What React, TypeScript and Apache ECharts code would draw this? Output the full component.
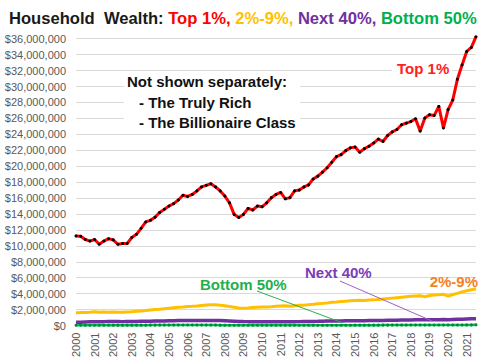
import React, { useEffect, useRef } from "react";
import * as echarts from "echarts";

const years: string[] = ["2000","2001","2002","2003","2004","2005","2006","2007","2008","2009","2010","2011","2012","2013","2014","2015","2016","2017","2018","2019","2020","2021"];
const quarters: string[] = [];
years.forEach((y) => ["Q1", "Q2", "Q3", "Q4"].forEach((q) => quarters.push(y + q)));
const categories = quarters.slice(0, 87);

// Values in $ millions per household
const top1: number[] = [
  11.25, 11.2, 10.8, 10.6, 10.8, 10.2, 10.6, 10.9, 10.75, 10.2, 10.3, 10.3,
  11.05, 11.45, 12.2, 13.0, 13.2, 13.6, 14.2, 14.6, 15.0, 15.3, 15.75, 16.35,
  16.2, 16.45, 16.9, 17.4, 17.6, 17.8, 17.4, 16.9, 16.25, 15.4, 13.95, 13.55,
  13.95, 14.7, 14.5, 15.0, 14.9, 15.4, 16.05, 16.45, 16.7, 15.9, 16.05, 16.9,
  17.0, 17.4, 17.65, 18.4, 18.75, 19.25, 19.8, 20.5, 21.2, 21.45, 21.95, 22.3,
  22.4, 21.75, 22.2, 22.5, 22.9, 23.4, 23.1, 23.85, 24.3, 24.6, 25.2, 25.4,
  25.6, 25.95, 24.4, 26.05, 26.45, 26.35, 27.5, 24.8, 27.1, 28.3, 30.9, 32.7,
  34.4, 34.9, 36.25,
];
const p2to9: number[] = [
  1.6, 1.62, 1.65, 1.68, 1.72, 1.66, 1.7, 1.68, 1.7, 1.68, 1.66, 1.7,
  1.72, 1.78, 1.82, 1.88, 1.95, 2.0, 2.05, 2.12, 2.18, 2.24, 2.3, 2.34,
  2.4, 2.42, 2.46, 2.52, 2.58, 2.62, 2.6, 2.56, 2.48, 2.4, 2.3, 2.2,
  2.16, 2.2, 2.26, 2.3, 2.34, 2.32, 2.36, 2.42, 2.46, 2.48, 2.42, 2.48,
  2.54, 2.56, 2.62, 2.66, 2.72, 2.78, 2.84, 2.92, 2.96, 3.02, 3.06, 3.1,
  3.14, 3.18, 3.14, 3.2, 3.22, 3.28, 3.34, 3.38, 3.44, 3.5, 3.56, 3.62,
  3.66, 3.7, 3.74, 3.62, 3.76, 3.82, 3.86, 3.92, 3.7, 3.9, 4.04, 4.2,
  4.36, 4.5, 4.62,
];
const next40: number[] = [
  0.4, 0.42, 0.44, 0.46, 0.48, 0.49, 0.49, 0.5, 0.5, 0.5, 0.49, 0.5,
  0.51, 0.52, 0.53, 0.54, 0.55, 0.56, 0.57, 0.58, 0.6, 0.61, 0.62, 0.63,
  0.63, 0.64, 0.64, 0.64, 0.64, 0.64, 0.63, 0.62, 0.6, 0.58, 0.55, 0.52,
  0.5, 0.49, 0.49, 0.49, 0.49, 0.48, 0.48, 0.48, 0.48, 0.48, 0.47, 0.48,
  0.49, 0.5, 0.51, 0.52, 0.53, 0.55, 0.56, 0.57, 0.58, 0.58, 0.59, 0.6,
  0.6, 0.61, 0.61, 0.62, 0.62, 0.63, 0.64, 0.65, 0.66, 0.67, 0.68, 0.69,
  0.7, 0.71, 0.72, 0.71, 0.72, 0.73, 0.74, 0.75, 0.74, 0.76, 0.78, 0.8,
  0.82, 0.84, 0.86,
];
const bottom50: number[] = [
  0.04, 0.041, 0.042, 0.043, 0.044, 0.044, 0.045, 0.045, 0.046, 0.046, 0.046, 0.047,
  0.047, 0.048, 0.049, 0.05, 0.051, 0.052, 0.053, 0.054, 0.055, 0.056, 0.057, 0.058,
  0.058, 0.058, 0.058, 0.057, 0.056, 0.055, 0.053, 0.05, 0.046, 0.042, 0.038, 0.035,
  0.033, 0.032, 0.031, 0.031, 0.03, 0.03, 0.03, 0.03, 0.031, 0.031, 0.031, 0.032,
  0.033, 0.034, 0.035, 0.036, 0.037, 0.038, 0.039, 0.04, 0.041, 0.042, 0.043, 0.044,
  0.045, 0.046, 0.047, 0.048, 0.049, 0.05, 0.051, 0.052, 0.053, 0.054, 0.055, 0.056,
  0.057, 0.058, 0.059, 0.059, 0.06, 0.061, 0.062, 0.063, 0.062, 0.066, 0.07, 0.074,
  0.078, 0.082, 0.086,
];
const yTicks = { min: 0, max: 36000000, interval: 2000000 };

const M = 1000000;
const FONT = '"Liberation Sans", Arial, sans-serif';
const TS = 16.6;

export default function App() {
  const ref = useRef<HTMLDivElement>(null);
  useEffect(() => {
    if (!ref.current) return;
    const chart = echarts.init(ref.current, null, { renderer: "svg" });
    const lineBase = { type: "line", smooth: false, clip: false, animation: false };
    chart.setOption({
      animation: false,
      backgroundColor: "#ffffff",
      title: {
        left: 4,
        top: 5,
        text:
          "{k|Household  Wealth: }{r|Top 1%, }{o|2%-9%, }{p|Next 40%, }{g|Bottom 50%}",
        textStyle: {
          fontFamily: FONT,
          fontWeight: "bold",
          fontSize: TS,
          rich: {
            k: { color: "#1a1a1a", fontWeight: "bold", fontSize: TS, fontFamily: FONT },
            r: { color: "#ff0000", fontWeight: "bold", fontSize: TS, fontFamily: FONT },
            o: { color: "#ffc000", fontWeight: "bold", fontSize: TS, fontFamily: FONT },
            p: { color: "#7030a0", fontWeight: "bold", fontSize: TS, fontFamily: FONT },
            g: { color: "#00b050", fontWeight: "bold", fontSize: TS, fontFamily: FONT },
          },
        },
      },
      grid: { left: 76, right: 4, top: 38.7, bottom: 33.3, containLabel: false },
      xAxis: {
        type: "category",
        data: categories,
        boundaryGap: false,
        axisLine: { show: true, lineStyle: { color: "#d9d9d9" } },
        axisTick: { show: false },
        axisLabel: {
          interval: 3,
          rotate: 90,
          margin: 7,
          fontSize: 11,
          fontFamily: FONT,
          color: "#595959",
          formatter: (v: string) => v.slice(0, 4),
        },
        splitLine: { show: false },
      },
      yAxis: {
        type: "value",
        min: yTicks.min,
        max: yTicks.max,
        interval: yTicks.interval,
        axisLine: { show: false },
        axisTick: { show: false },
        axisLabel: {
          fontSize: 11,
          fontFamily: FONT,
          color: "#595959",
          margin: 10,
          formatter: (v: number) => "$" + v.toLocaleString("en-US"),
        },
        splitLine: { lineStyle: { color: "#d9d9d9", width: 1 } },
      },
      series: [
        {
          ...lineBase,
          name: "2%-9%",
          data: p2to9.map((v) => v * M),
          showSymbol: false,
          lineStyle: { color: "#ffc000", width: 3 },
          z: 2,
        },
        {
          ...lineBase,
          name: "Next 40%",
          data: next40.map((v) => v * M),
          showSymbol: false,
          lineStyle: { color: "#7030a0", width: 3.5 },
          z: 3,
        },
        {
          ...lineBase,
          name: "Bottom 50%",
          data: bottom50.map((v) => v * M),
          symbol: "circle",
          symbolSize: 3,
          showAllSymbol: true,
          itemStyle: { color: "#00873a" },
          lineStyle: { color: "#00c050", width: 2.5 },
          z: 4,
        },
        {
          ...lineBase,
          name: "Top 1%",
          data: top1.map((v) => v * M),
          symbol: "circle",
          symbolSize: 3,
          showAllSymbol: true,
          itemStyle: { color: "#000000" },
          lineStyle: { color: "#ff0000", width: 3 },
          z: 5,
        },
      ],
      graphic: [
        { type: "rect", shape: { x: 124, y: 72, width: 176, height: 59 }, style: { fill: "#ffffff" }, z: 10 },
        { type: "text", x: 127, y: 81, style: { text: "Not shown separately:", fill: "#111111", font: `bold 15px ${FONT}`, textVerticalAlign: "middle" }, z: 11 },
        { type: "text", x: 139, y: 102, style: { text: "- The Truly Rich", fill: "#111111", font: `bold 15px ${FONT}`, textVerticalAlign: "middle" }, z: 11 },
        { type: "text", x: 139, y: 122, style: { text: "- The Billionaire Class", fill: "#111111", font: `bold 15px ${FONT}`, textVerticalAlign: "middle" }, z: 11 },
        { type: "rect", shape: { x: 392, y: 56, width: 60, height: 22 }, style: { fill: "#ffffff" }, z: 10 },
        { type: "text", x: 397, y: 68, style: { text: "Top 1%", fill: "#ff2020", font: `bold 15px ${FONT}`, textVerticalAlign: "middle" }, z: 11 },
        { type: "text", x: 478, y: 281, style: { text: "2%-9%", fill: "#f58025", font: `bold 15px ${FONT}`, textAlign: "right", textVerticalAlign: "middle" }, z: 11 },
        { type: "line", shape: { x1: 340, y1: 281, x2: 432, y2: 321 }, style: { stroke: "#a35cc9", lineWidth: 1 }, z: 11 },
        { type: "text", x: 305, y: 272, style: { text: "Next 40%", fill: "#7a3db3", font: `bold 15px ${FONT}`, textVerticalAlign: "middle" }, z: 11 },
        { type: "line", shape: { x1: 257, y1: 291, x2: 343, y2: 323 }, style: { stroke: "#2cb050", lineWidth: 1 }, z: 11 },
        { type: "text", x: 200, y: 284, style: { text: "Bottom 50%", fill: "#22b04b", font: `bold 15px ${FONT}`, textVerticalAlign: "middle" }, z: 11 },
      ],
    });
    return () => chart.dispose();
  }, []);
  return <div ref={ref} style={{ width: 480, height: 360, position: "absolute", left: 0, top: 0 }} />;
}
